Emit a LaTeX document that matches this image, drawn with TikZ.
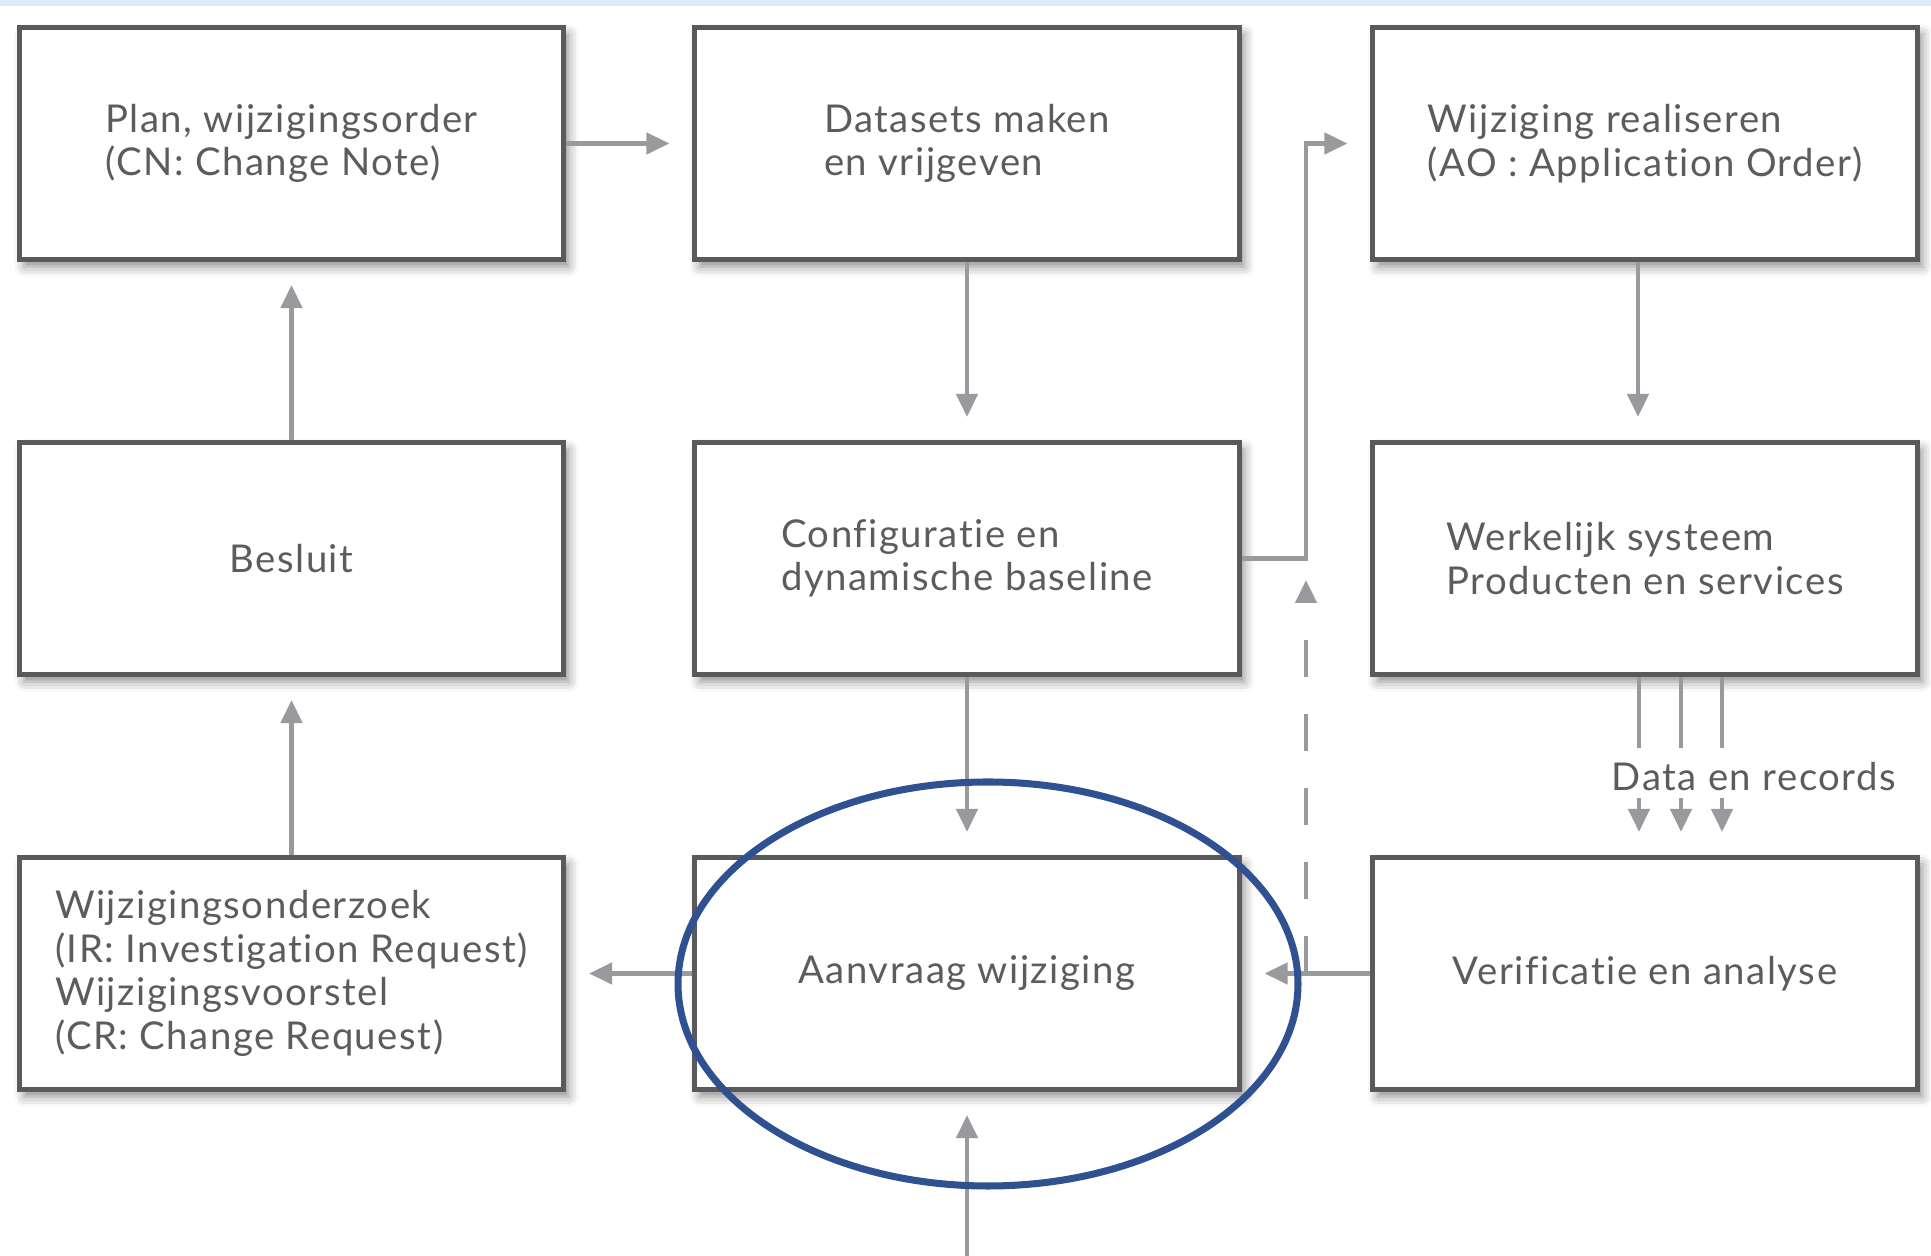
\documentclass[tikz,border=0pt]{standalone}
\usepackage{fontspec}
\setmainfont{Lato}[LetterSpace=4, Ligatures={NoCommon, NoRequired}]
\usepackage{tikz}
\tikzset{>=latex}
\usetikzlibrary{arrows.meta, shadows.blur, calc}
\definecolor{boxline}{HTML}{5A5A5C}
\definecolor{arrowgray}{HTML}{9A9A9E}
\definecolor{textgray}{HTML}{5C5C5C}
\definecolor{ringblue}{HTML}{2F5191}
\definecolor{bandblue}{HTML}{DDEBF7}
\def\boxwidth{5.445}
\def\boxheight{2.325}
\def\colone{2.915}
\def\coltwo{9.67}
\def\colthree{16.45}
\def\rowone{11.125}
\def\rowtwo{6.975}
\def\rowthree{2.825}
\def\riserx{13.06}
\def\arrowgap{0.23cm}

\tikzset{
  stepbox/.style={draw=boxline, line width=1.3pt, fill=white, inner sep=0pt,
    minimum width=\boxwidth cm, minimum height=\boxheight cm,
    align=left, text=textgray, font=\fontsize{10.9pt}{12.4pt}\selectfont,
    blur shadow={shadow xshift=0.05cm, shadow yshift=-0.07cm, shadow blur radius=0.1cm, shadow opacity=45}},
  flowarrow/.style={draw=arrowgray, line width=1.3pt, -{Triangle[length=0.23cm, width=0.21cm]}, shorten >=\arrowgap},
  dataline/.style={draw=arrowgray, line width=1.3pt},
  datalabel/.style={text=textgray, font=\fontsize{10.9pt}{12.4pt}\selectfont, inner sep=0pt}
}

\begin{document}
\begin{tikzpicture}

\useasboundingbox (0,0) rectangle (19.31,12.56);

% Band at top
\fill[bandblue] (0,12.50) rectangle (19.31,12.56);

% Boxes
\node[stepbox] (plan) at (\colone, \rowone) {Plan, wijzigingsorder\\(CN: Change Note)};
\node[stepbox] (datasets) at (\coltwo, \rowone) {Datasets maken\\en vrijgeven};
\node[stepbox] (realiseren) at (\colthree, \rowone) {Wijziging realiseren\\(AO : Application Order)};

\node[stepbox] (besluit) at (\colone, \rowtwo) {Besluit};
\node[stepbox] (configuratie) at (\coltwo, \rowtwo) {Configuratie en\\dynamische baseline};
\node[stepbox] (werkelijk) at (\colthree, \rowtwo) {Werkelijk systeem\\Producten en services};

\node[stepbox] (onderzoek) at (\colone, \rowthree) {Wijzigingsonderzoek\\(IR: Investigation Request)\\Wijzigingsvoorstel\\(CR: Change Request)};
\node[stepbox] (aanvraag) at (\coltwo, \rowthree) {Aanvraag wijziging};
\node[stepbox] (verificatie) at (\colthree, \rowthree) {Verificatie en analyse};

% Loose ends
\coordinate (riser) at (\riserx, \rowone);
\coordinate (dashtop) at (\riserx, 6.76);
\coordinate (incoming) at (\coltwo, 0);

% Arrows
\draw[flowarrow] (plan.east) -- (datasets.west);
\draw[flowarrow] (datasets.south) -- (configuratie.north);
\draw[flowarrow] (configuratie.south) -- (aanvraag.north);
\draw[flowarrow] (configuratie.east) -| (riser) -- (realiseren.west);
\draw[flowarrow] ([xshift=-0.07cm]realiseren.south) -- ([xshift=-0.07cm]werkelijk.north);
\draw[flowarrow] (verificatie.west) -- (aanvraag.east);
\draw[flowarrow] (aanvraag.west) -- (onderzoek.east);
\draw[flowarrow] (onderzoek.north) -- (besluit.south);
\draw[flowarrow] (besluit.north) -- (plan.south);
\draw[flowarrow] (incoming) -- (aanvraag.south);
\draw[flowarrow, dash pattern=on 0.37cm off 0.37cm, shorten >=0pt] (riser |- aanvraag.east) -- (dashtop);

% Data en records
\foreach \dx in {-0.06, 0.36, 0.77} {
  \draw[dataline] ([xshift=\dx cm]werkelijk.south) -- ++(0,-0.71);
  \draw[flowarrow] ($([xshift=\dx cm]werkelijk.south)+(0,-1.21)$) -- ([xshift=\dx cm]verificatie.north);
}
\node[datalabel] (records) at (17.54, 4.79) {Data en records};

% Ring
\draw[ringblue, line width=2pt] (9.88, 2.72) ellipse [x radius=3.1, y radius=2.02];

\end{tikzpicture}
\end{document}
